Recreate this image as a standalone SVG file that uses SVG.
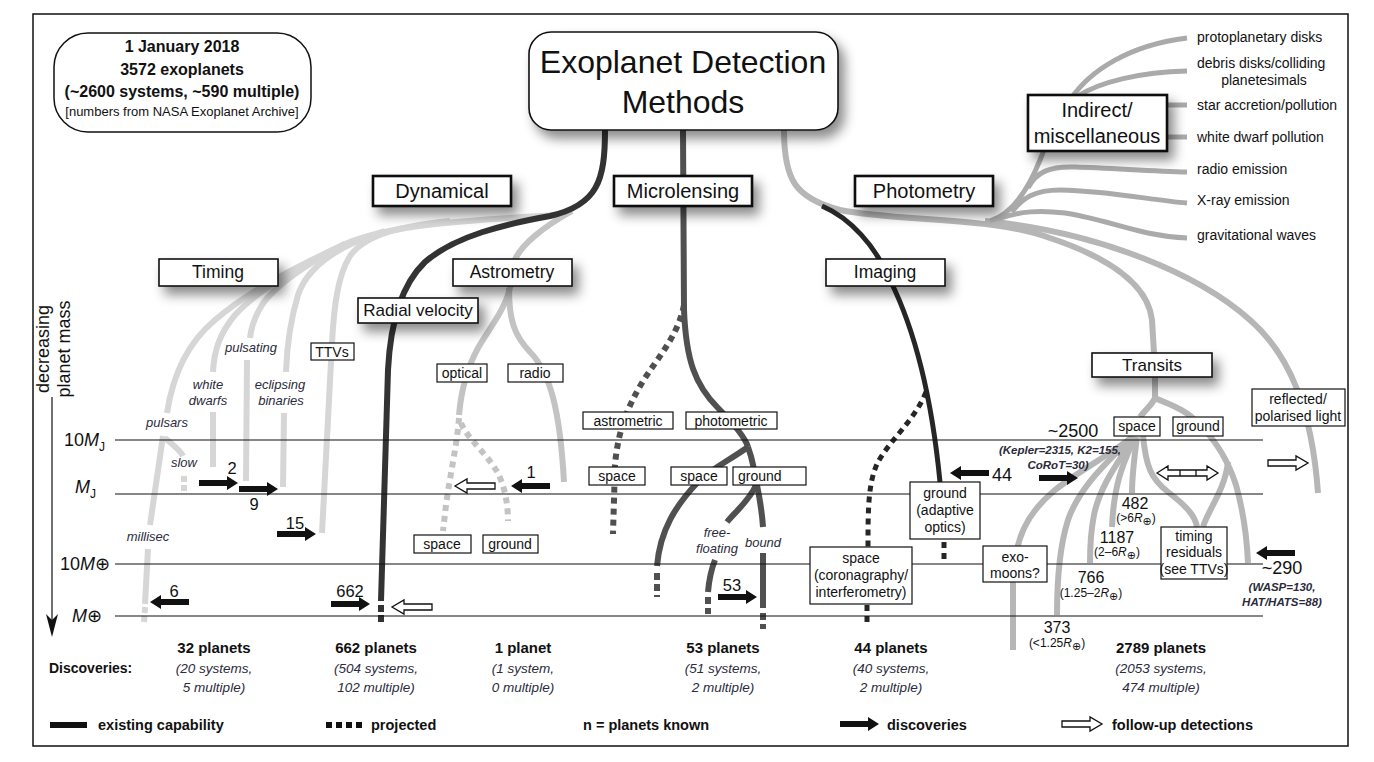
<svg xmlns="http://www.w3.org/2000/svg" width="1374" height="762" viewBox="0 0 1374 762">
<defs>
<style>
text{font-family:"Liberation Sans",Arial,"DejaVu Sans",sans-serif;fill:#111}
.c{text-anchor:middle}
.i{font-style:italic;fill:#2b2b3b}
.b{font-weight:bold}
.box{fill:#fff;stroke:#111;stroke-width:1.2}
.box2{fill:#fff;stroke:#111;stroke-width:2.6}
.box3{fill:#fff;stroke:#111;stroke-width:1.6}
.ln{fill:none;stroke-width:6}
.tm{stroke:#d6d6d6}
.as{stroke:#c3c3c3}
.ph{stroke:#b6b6b6}
.ind{fill:none;stroke:#aaaaaa;stroke-width:5}
.rv{stroke:#333}
.ml{stroke:#505050}
.im{stroke:#262626;stroke-width:5}
.dot{stroke-dasharray:6 5}
.axis{stroke:#111;stroke-width:1.2;fill:none}
.fa{fill:#111}
.ha{fill:#fff;stroke:#111;stroke-width:1.3}
</style>
<filter id="sh" x="-20%" y="-40%" width="150%" height="220%">
<feDropShadow dx="6" dy="8" stdDeviation="6" flood-color="#000" flood-opacity="0.45"/>
</filter>
<path id="far" d="M0,-3 H28 V-7 L39,0 L28,7 V3 H0 Z"/>
<path id="har" d="M0,-3 H28 V-7 L40,0 L28,7 V3 H0 Z"/>
</defs>
<rect width="1374" height="762" fill="#fff"/>
<rect x="33" y="14" width="1315" height="732" fill="none" stroke="#111" stroke-width="1.5"/>

<g id="connectors">
<!-- Timing -->
<path class="ln tm" d="M560,215 C470,220 390,224 345,244 C300,265 250,290 215,320 C185,345 172,380 167,413"/>
<path class="ln tm" d="M163,436 L150,525"/>
<path class="ln tm" d="M148,549 L145,604"/>
<path class="ln tm" d="M145,607 L144,623" stroke-dasharray="6 3"/>
<path class="ln tm" d="M165,438 C172,444 180,450 183,456"/>
<path class="ln tm" d="M184,476 L184,491" stroke-dasharray="6 3"/>
<path class="ln tm" d="M345,244 C300,266 255,292 235,315 C220,333 214,350 213,372"/>
<path class="ln tm" d="M213,412 L213,467"/>
<path class="ln tm" d="M345,244 C310,262 275,285 262,305 C254,318 251,328 250,338"/>
<path class="ln tm" d="M247,360 L246,481"/>
<path class="ln tm" d="M385,231 C340,245 308,265 298,295 C291,318 287,345 286,372"/>
<path class="ln tm" d="M284,413 L283,487"/>
<path class="ln tm" d="M450,221 C400,226 365,235 350,256 C338,275 334,305 332,343 L322,533"/>
<!-- Astrometry -->
<path class="ln as" d="M572,211 C545,226 520,245 514,262 L510,288"/>
<path class="ln as" d="M510,288 C505,310 488,330 478,348 C466,370 461,392 459,415"/>
<path class="ln as dot" d="M459,418 C457,445 450,475 446,505 L443,531"/>
<path class="ln as dot" d="M461,423 C467,438 485,452 496,470 C505,485 508,505 508,521"/>
<path class="ln as" d="M509,288 C509,320 514,335 530,352 C550,372 560,410 564,482"/>
<!-- Radial velocity -->
<path class="ln rv" d="M605,130 C605,180 598,205 550,216 C505,224 455,236 425,262 C398,288 390,330 388,370 L381,601"/>
<path class="ln rv" d="M381,605 L381,623" stroke-dasharray="7 3"/>
<!-- Microlensing -->
<path class="ln ml" d="M683,130 L684,310 C686,360 695,385 718,408 C735,425 745,437 748,447"/>
<path class="ln ml dot" d="M684,305 C678,335 660,355 645,378 C628,405 618,430 615,465 L613,534"/>
<path class="ln ml" d="M748,447 C730,460 712,468 698,482 C676,505 660,530 657,566"/>
<path class="ln ml" d="M657,573 L657,597" stroke-dasharray="7 4"/>
<path class="ln ml" d="M748,447 C752,458 755,470 756,487"/>
<path class="ln ml" d="M756,485 C750,500 735,512 727,522"/>
<path class="ln ml" d="M715,560 C711,570 709,580 708,592"/>
<path class="ln ml" d="M708,597 L708,614" stroke-dasharray="7 4"/>
<path class="ln ml" d="M757,485 C760,500 762,512 763,527"/>
<path class="ln ml" d="M763,553 L763,608"/>
<path class="ln ml" d="M763,613 L763,629" stroke-dasharray="7 4"/>
<!-- Photometry / transits / reflected -->
<path class="ln ph" d="M784,130 C784,180 795,198 840,210 C900,222 990,216 1050,238 C1110,258 1148,285 1152,320 L1154,353"/>
<path class="ln ph" d="M985,221 C1100,232 1200,275 1250,320 C1290,355 1312,410 1318,493"/>
<path class="ln ph" d="M1155,377 L1155,398 C1152,405 1145,410 1140,417"/>
<path class="ln ph" d="M1155,398 C1165,403 1185,408 1200,425 C1215,440 1228,460 1236,485 C1243,510 1247,540 1248,563"/>
<path class="ln ph" d="M1228,462 C1225,490 1208,510 1203,527"/>
<path class="ln ph" d="M1143,436 C1146,465 1150,478 1168,492 C1185,505 1195,515 1197,527"/>
<path class="ln ph" d="M1132,437 C1110,455 1080,470 1055,490 C1025,515 1015,540 1013,580 L1013,650"/>
<path class="ln ph" d="M1132,437 C1110,460 1080,485 1068,520 C1060,545 1057,575 1057,615"/>
<path class="ln ph" d="M1134,437 C1120,460 1100,485 1094,515 C1090,535 1090,550 1090,563"/>
<path class="ln ph" d="M1135,437 C1125,460 1114,480 1112,527"/>
<path class="ln ph" d="M1137,437 C1134,460 1132,475 1132,493"/>
<!-- Indirect -->
<path class="ind" d="M990,221 C1012,214 1028,190 1040,160 C1050,135 1060,110 1075,95"/>
<path class="ind" d="M1070,100 C1090,70 1130,45 1187,38"/>
<path class="ind" d="M1078,96 C1100,82 1140,72 1187,71"/>
<path class="ind" d="M1167,105 L1187,105"/>
<path class="ind" d="M1167,137 L1187,137"/>
<path class="ind" d="M1028,188 C1036,172 1050,166 1075,167 C1110,168 1150,171 1187,172"/>
<path class="ind" d="M1012,212 C1022,198 1035,190 1060,190 C1110,191 1150,200 1187,203"/>
<path class="ind" d="M998,219 C1020,211 1040,210 1065,213 C1110,220 1140,236 1187,238"/>
<!-- Imaging -->
<path class="ln im" d="M822,206 C850,218 875,245 890,280 C915,330 932,400 940,482"/>
<path class="ln im dot" d="M926,392 C915,420 890,440 878,462 C868,482 868,510 868,547"/>
<path class="ln im dot" d="M944,542 L944,560"/>
<path class="ln im dot" d="M867,605 L867,627"/>
</g>

<g id="axes">
<path class="axis" d="M115,440 H1263 M115,494 H1263 M115,564 H1263 M115,616 H1263"/>
<path class="axis" d="M52,397 V628"/>
<path d="M52,637 L46,614 L52,620 L58,614 Z" fill="#111"/>
<text x="49" y="349" class="c" font-size="18" transform="rotate(-90 49 349)">decreasing</text>
<text x="70" y="349" class="c" font-size="18" transform="rotate(-90 70 349)">planet mass</text>
<text x="64" y="446" font-size="18">10<tspan font-style="italic">M</tspan><tspan font-size="12" dy="5">J</tspan></text>
<text x="75" y="493" font-size="18"><tspan font-style="italic">M</tspan><tspan font-size="12" dy="5">J</tspan></text>
<text x="60" y="570" font-size="18">10<tspan font-style="italic">M</tspan>⊕</text>
<text x="72" y="622" font-size="18"><tspan font-style="italic">M</tspan>⊕</text>
</g>

<g id="discovery-arrows">
<use href="#far" class="fa" transform="translate(199,483)"/>
<use href="#far" class="fa" transform="translate(239,489)"/>
<use href="#far" class="fa" transform="translate(277,534)"/>
<use href="#far" class="fa" transform="translate(189,602) scale(-1,1)"/>
<use href="#far" class="fa" transform="translate(331,604)"/>
<use href="#far" class="fa" transform="translate(550,486) scale(-1,1)"/>
<use href="#far" class="fa" transform="translate(718,597)"/>
<use href="#far" class="fa" transform="translate(989,473) scale(-1,1)"/>
<use href="#far" class="fa" transform="translate(1039,478)"/>
<use href="#far" class="fa" transform="translate(1295,553) scale(-1,1)"/>
<use href="#har" class="ha" transform="translate(495,486) scale(-1,1)"/>
<use href="#har" class="ha" transform="translate(432,607) scale(-1,1)"/>
<use href="#har" class="ha" transform="translate(1268,463)"/>
<path class="ha" d="M1157,473 L1168,466 V470 H1207 V466 L1218,473 L1207,480 V476 H1168 V480 Z M1180,470 V476 M1196,470 V476"/>
<text x="232" y="474" class="c" font-size="16.5">2</text>
<text x="254" y="510" class="c" font-size="16.5">9</text>
<text x="295" y="529" class="c" font-size="16.5">15</text>
<text x="174" y="597" class="c" font-size="16.5">6</text>
<text x="350" y="597" class="c" font-size="16.5">662</text>
<text x="531" y="478" class="c" font-size="16.5">1</text>
<text x="732" y="591" class="c" font-size="16.5">53</text>
<text x="992" y="481" font-size="18">44</text>
<text x="1073" y="437" class="c" font-size="18">~2500</text>
<text x="1060" y="454" class="c i b" font-size="11.5">(Kepler=2315, K2=155,</text>
<text x="1058" y="469" class="c i b" font-size="11.5">CoRoT=30)</text>
<text x="1282" y="574" class="c" font-size="18">~290</text>
<text x="1282" y="591" class="c i b" font-size="11.5">(WASP=130,</text>
<text x="1282" y="606" class="c i b" font-size="11.5">HAT/HATS=88)</text>
<text x="1135" y="509" class="c" font-size="16">482</text>
<text x="1136" y="522" class="c" font-size="12">(&gt;6<tspan font-style="italic">R</tspan><tspan font-size="11" dy="3">⊕</tspan><tspan dy="-3">)</tspan></text>
<text x="1117" y="543" class="c" font-size="16">1187</text>
<text x="1117" y="556" class="c" font-size="12">(2–6<tspan font-style="italic">R</tspan><tspan font-size="11" dy="3">⊕</tspan><tspan dy="-3">)</tspan></text>
<text x="1091" y="583" class="c" font-size="16">766</text>
<text x="1091" y="597" class="c" font-size="12">(1.25–2<tspan font-style="italic">R</tspan><tspan font-size="11" dy="3">⊕</tspan><tspan dy="-3">)</tspan></text>
<text x="1057" y="633" class="c" font-size="16">373</text>
<text x="1057" y="647" class="c" font-size="12">(&lt;1.25<tspan font-style="italic">R</tspan><tspan font-size="11" dy="3">⊕</tspan><tspan dy="-3">)</tspan></text>
</g>

<g id="branch-labels">
<text x="167" y="427" class="c i" font-size="13">pulsars</text>
<text x="184" y="467" class="c i" font-size="13">slow</text>
<text x="148" y="541" class="c i" font-size="13">millisec</text>
<text x="208" y="389" class="c i" font-size="13">white</text>
<text x="208" y="405" class="c i" font-size="13">dwarfs</text>
<text x="251" y="352" class="c i" font-size="13">pulsating</text>
<text x="280" y="389" class="c i" font-size="13">eclipsing</text>
<text x="281" y="405" class="c i" font-size="13">binaries</text>
<text x="717" y="537" class="c i" font-size="13">free-</text>
<text x="717" y="553" class="c i" font-size="13">floating</text>
<text x="763" y="547" class="c i" font-size="13">bound</text>
</g>

<g id="info">
<rect x="54" y="33" width="257" height="99" rx="34" fill="#fff" stroke="#111" stroke-width="1.5"/>
<text x="182" y="52" class="c b" font-size="16">1 January 2018</text>
<text x="182" y="75" class="c b" font-size="16">3572 exoplanets</text>
<text x="182" y="97" class="c b" font-size="16">(~2600 systems, ~590 multiple)</text>
<text x="182" y="116" class="c" font-size="13">[numbers from NASA Exoplanet Archive]</text>
</g>

<g id="root">
<rect x="529" y="32" width="309" height="98" rx="22" fill="#fff" stroke="#111" stroke-width="1.6" filter="url(#sh)"/>
<text x="683" y="73" class="c" font-size="32">Exoplanet Detection</text>
<text x="683" y="113" class="c" font-size="32">Methods</text>
</g>

<g id="dynamical"><rect class="box2" x="373" y="176" width="138" height="30" filter="url(#sh)"/><text x="442" y="198" class="c" font-size="20">Dynamical</text></g>
<g id="microlensing"><rect class="box2" x="614" y="176" width="138" height="30" filter="url(#sh)"/><text x="683" y="198" class="c" font-size="20">Microlensing</text></g>
<g id="photometry"><rect class="box2" x="855" y="176" width="138" height="30" filter="url(#sh)"/><text x="924" y="198" class="c" font-size="20">Photometry</text></g>
<g id="indirect"><rect class="box2" x="1028" y="95" width="139" height="56" filter="url(#sh)"/><text x="1097" y="117" class="c" font-size="20">Indirect/</text><text x="1097" y="143" class="c" font-size="20">miscellaneous</text></g>

<g id="timing"><rect class="box3" x="159" y="259" width="119" height="27" filter="url(#sh)"/><text x="218" y="278" class="c" font-size="17.5">Timing</text></g>
<g id="astrometry"><rect class="box3" x="453" y="259" width="119" height="27" filter="url(#sh)"/><text x="512" y="278" class="c" font-size="17.5">Astrometry</text></g>
<g id="imaging"><rect class="box3" x="826" y="259" width="119" height="27" filter="url(#sh)"/><text x="885" y="278" class="c" font-size="17.5">Imaging</text></g>
<g id="radial-velocity"><rect class="box3" x="358" y="298" width="120" height="25" filter="url(#sh)"/><text x="418" y="316" class="c" font-size="17">Radial velocity</text></g>
<g id="transits"><rect class="box3" x="1092" y="353" width="120" height="24" filter="url(#sh)"/><text x="1152" y="371" class="c" font-size="17">Transits</text></g>

<g id="ttvs"><rect class="box" x="311" y="343" width="43" height="17"/><text x="332" y="357" class="c" font-size="14">TTVs</text></g>
<g id="optical"><rect class="box" x="437" y="364" width="50" height="18"/><text x="462" y="378" class="c" font-size="14">optical</text></g>
<g id="radio"><rect class="box" x="508" y="364" width="55" height="18"/><text x="535" y="378" class="c" font-size="14">radio</text></g>
<g id="astro-space"><rect class="box" x="414" y="535" width="57" height="18"/><text x="442" y="549" class="c" font-size="14">space</text></g>
<g id="astro-ground"><rect class="box" x="483" y="535" width="55" height="18"/><text x="510" y="549" class="c" font-size="14">ground</text></g>
<g id="astrometric"><rect class="box" x="583" y="412" width="90" height="17"/><text x="628" y="426" class="c" font-size="14">astrometric</text></g>
<g id="photometric"><rect class="box" x="686" y="412" width="91" height="17"/><text x="731" y="426" class="c" font-size="14">photometric</text></g>
<g id="ml-space-a"><rect class="box" x="589" y="467" width="56" height="18"/><text x="617" y="481" class="c" font-size="14">space</text></g>
<g id="ml-space-p"><rect class="box" x="671" y="467" width="56" height="18"/><text x="699" y="481" class="c" font-size="14">space</text></g>
<g id="ml-ground"><rect class="box" x="733" y="467" width="73" height="18"/><text x="738" y="481" font-size="14">ground</text></g>
<g id="img-space"><rect class="box" x="810" y="547" width="102" height="57"/><text x="861" y="563" class="c" font-size="14">space</text><text x="861" y="580" class="c" font-size="14">(coronagraphy/</text><text x="861" y="597" class="c" font-size="14">interferometry)</text></g>
<g id="img-ground"><rect class="box" x="910" y="482" width="70" height="57"/><text x="945" y="498" class="c" font-size="14">ground</text><text x="945" y="515" class="c" font-size="14">(adaptive</text><text x="945" y="532" class="c" font-size="14">optics)</text></g>
<g id="tr-space"><rect class="box" x="1114" y="417" width="46" height="19"/><text x="1137" y="431" class="c" font-size="14">space</text></g>
<g id="tr-ground"><rect class="box" x="1173" y="417" width="50" height="19"/><text x="1198" y="431" class="c" font-size="14">ground</text></g>
<g id="reflected"><rect class="box" x="1252" y="389" width="93" height="37"/><text x="1298" y="404" class="c" font-size="14">reflected/</text><text x="1298" y="421" class="c" font-size="14">polarised light</text></g>
<g id="exomoons"><rect class="box" x="983" y="546" width="64" height="36"/><text x="1015" y="562" class="c" font-size="14">exo-</text><text x="1015" y="578" class="c" font-size="14">moons?</text></g>
<g id="timing-residuals"><rect class="box" x="1161" y="527" width="66" height="52"/><text x="1194" y="541" class="c" font-size="14">timing</text><text x="1194" y="557" class="c" font-size="14">residuals</text><text x="1194" y="574" class="c" font-size="14">(see TTVs)</text></g>

<g id="indirect-labels" font-size="14">
<text x="1197" y="42" font-size="14">protoplanetary disks</text>
<text x="1197" y="68" font-size="14">debris disks/colliding</text>
<text x="1264" y="85" class="c" font-size="14">planetesimals</text>
<text x="1197" y="110" font-size="14">star accretion/pollution</text>
<text x="1197" y="142" font-size="14">white dwarf pollution</text>
<text x="1197" y="174" font-size="14">radio emission</text>
<text x="1197" y="205" font-size="14">X-ray emission</text>
<text x="1197" y="240" font-size="14">gravitational waves</text>
</g>

<g id="discoveries">
<text x="49" y="673" class="b" font-size="14">Discoveries:</text>
<text x="214" y="653" class="c b" font-size="15">32 planets</text>
<text x="214" y="673" class="c i" font-size="13.5">(20 systems,</text>
<text x="214" y="692" class="c i" font-size="13.5">5 multiple)</text>
<text x="376" y="653" class="c b" font-size="15">662 planets</text>
<text x="376" y="673" class="c i" font-size="13.5">(504 systems,</text>
<text x="376" y="692" class="c i" font-size="13.5">102 multiple)</text>
<text x="523" y="653" class="c b" font-size="15">1 planet</text>
<text x="523" y="673" class="c i" font-size="13.5">(1 system,</text>
<text x="523" y="692" class="c i" font-size="13.5">0 multiple)</text>
<text x="723" y="653" class="c b" font-size="15">53 planets</text>
<text x="723" y="673" class="c i" font-size="13.5">(51 systems,</text>
<text x="723" y="692" class="c i" font-size="13.5">2 multiple)</text>
<text x="891" y="653" class="c b" font-size="15">44 planets</text>
<text x="891" y="673" class="c i" font-size="13.5">(40 systems,</text>
<text x="891" y="692" class="c i" font-size="13.5">2 multiple)</text>
<text x="1161" y="653" class="c b" font-size="15">2789 planets</text>
<text x="1161" y="673" class="c i" font-size="13.5">(2053 systems,</text>
<text x="1161" y="692" class="c i" font-size="13.5">474 multiple)</text>
</g>

<g id="legend">
<path d="M50,725 H87" stroke="#111" stroke-width="6"/>
<text x="98" y="730" class="b" font-size="14.5">existing capability</text>
<path d="M326,725 H364" stroke="#111" stroke-width="6" stroke-dasharray="6 4"/>
<text x="371" y="730" class="b" font-size="14.5">projected</text>
<text x="583" y="730" class="b" font-size="14.5">n = planets known</text>
<use href="#far" class="fa" transform="translate(840,724)"/>
<text x="887" y="730" class="b" font-size="14.5">discoveries</text>
<use href="#har" class="ha" transform="translate(1062,724)"/>
<text x="1112" y="730" class="b" font-size="14.5">follow-up detections</text>
</g>
</svg>
